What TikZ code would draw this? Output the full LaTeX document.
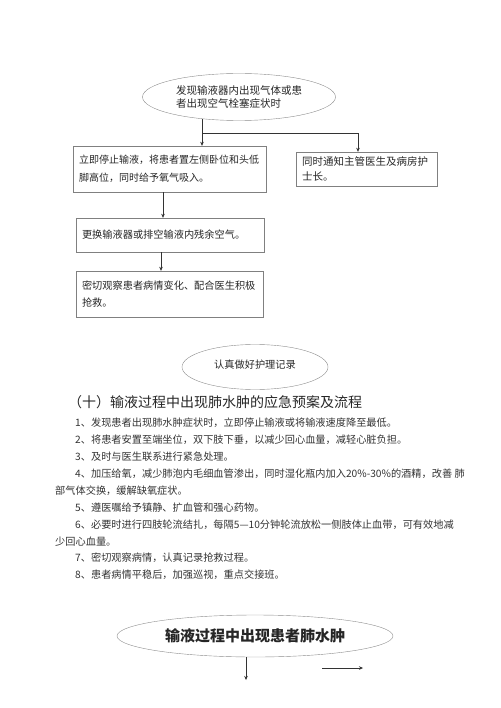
\documentclass[tikz,border=0pt]{standalone}
\usepackage{fontspec}
\setmainfont{Noto Sans CJK SC}
\usetikzlibrary{arrows.meta,shapes.geometric}

\begin{document}
\begin{tikzpicture}[x=1pt,y=-1pt,
	oval/.style={ellipse,draw=black!45,inner sep=0pt,text=black!85},
	stepbox/.style={rectangle,draw=black!50,inner xsep=6pt,inner ysep=2pt,align=left,text=black!85},
	item/.style={anchor=west,inner sep=0pt,text=black!80,font=\fontsize{10.2}{12}\selectfont},
	link/.style={draw=black!80,-{Stealth[length=4pt,width=3.5pt]}}]
						\useasboundingbox (0,0) rectangle (500,708);
						
						\node[oval,minimum width=193,minimum height=47,align=left,font=\fontsize{10.5}{13}\selectfont] (found) at (239,97) {发现输液器内出现气体或患\\者出现空气栓塞症状时};
						
						\node[stepbox,text width=181,minimum height=46,font=\fontsize{10}{18}\selectfont] (stop) at (169.5,169) {立即停止输液，将患者置左侧卧位和头低\\脚高位，同时给予氧气吸入。};
						
						\node[stepbox,text width=129,minimum height=34,font=\fontsize{10.5}{15}\selectfont] (notify) at (366.5,169) {同时通知主管医生及病房护\\士长。};
						
						\node[stepbox,text width=176,minimum height=34,font=\fontsize{10.2}{17}\selectfont] (change) at (170,235) {更换输液器或排空输液内残余空气。};
						
						\node[stepbox,text width=175,minimum height=46,font=\fontsize{10.2}{17}\selectfont] (watch) at (169.5,294) {密切观察患者病情变化、配合医生积极\\抢救。};
						
						\node[oval,minimum width=146,minimum height=45,font=\fontsize{10.2}{12}\selectfont] (record) at (255,367) {\raisebox{5pt}{认真做好护理记录}};
						
						\node[anchor=west,inner sep=0pt,text=black!85,font=\fontsize{14}{16}\selectfont] (title) at (68,402) {（十）输液过程中出现肺水肿的应急预案及流程};
						
						\foreach \x/\txt [count=\k] in {75/1、发现患者出现肺水肿症状时，立即停止输液或将输液速度降至最低。,
							75/2、将患者安置至端坐位，双下肢下垂，以减少回心血量，减轻心脏负担。,
							75/3、及时与医生联系进行紧急处理。,
							75/4、加压给氧，减少肺泡内毛细血管渗出，同时湿化瓶内加入20\%-30\%的酒精，改善 肺,
							55/部气体交换，缓解缺氧症状。,
							75/5、遵医嘱给予镇静、扩血管和强心药物。,
							75/6、必要时进行四肢轮流结扎，每隔5—10分钟轮流放松一侧肢体止血带，可有效地减,
							55/少回心血量。,
							75/7、密切观察病情，认真记录抢救过程。,
							75/8、患者病情平稳后，加强巡视，重点交接班。}{
							\node[item] (item\k) at (\x,423+16.9*\k-16.9) {\txt};
						}
						
						\node[oval,minimum width=276,minimum height=42,font=\fontsize{15}{17}\selectfont\bfseries] (swell) at (255,636) {输液过程中出现患者肺水肿};
						
						\coordinate (fork) at (202,133);
						\draw[draw=black!80] (fork |- found.210) -- (fork);
						\draw[link] (fork) -- (fork |- stop.north);
						\draw[link] (fork) -| ([xshift=-8.5pt]notify.north);
						\draw[link] ([xshift=-6.5pt]stop.south) -- ([xshift=-6.5pt]stop.south |- change.north);
						\draw[link] ([xshift=-9pt]change.south) -- ([xshift=-9pt]change.south |- watch.north);
						
						\coordinate (drop) at (246,680);
						\draw[link] (drop |- swell.south) -- (drop);
						\coordinate (sidefrom) at (322,668);
						\coordinate (sideto) at (363,668);
						\draw[link] (sidefrom) -- (sideto);
						
					\end{tikzpicture}
\end{document}
